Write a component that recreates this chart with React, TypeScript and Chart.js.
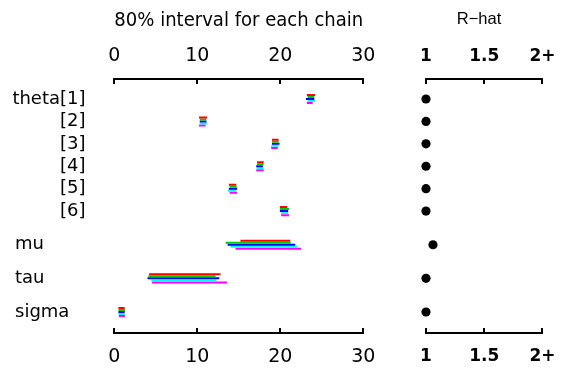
import React, { useEffect, useRef } from "react";
import { Chart, registerables } from "chart.js";

Chart.register(...registerables);

// ---- data ----
const PARAMS = ["theta[1]", "[2]", "[3]", "[4]", "[5]", "[6]", "mu", "tau", "sigma"];
const ROWS = [0, 1, 2, 3, 4, 5, 6.5, 8, 9.5];

const chain1Lo = [23.2, 10.2, 19.0, 17.2, 13.8, 19.95, 15.2, 4.2, 0.5];
const chain1Hi = [24.2, 11.2, 19.8, 18.0, 14.7, 20.85, 21.2, 12.8, 1.25];
const chain2Lo = [23.3, 10.3, 19.0, 17.2, 13.9, 19.95, 13.4, 4.1, 0.5];
const chain2Hi = [24.1, 11.1, 19.8, 18.0, 14.75, 21.05, 21.25, 12.2, 1.3];
const chain3Lo = [23.1, 10.3, 19.0, 17.1, 13.8, 19.95, 13.65, 4.0, 0.5];
const chain3Hi = [24.1, 11.1, 19.9, 17.9, 14.8, 20.95, 21.8, 12.65, 1.25];
const chain4Lo = [23.3, 10.3, 18.9, 17.15, 13.7, 20.1, 14.0, 4.45, 0.5];
const chain4Hi = [24.2, 11.2, 19.8, 18.0, 14.7, 20.95, 22.1, 12.3, 1.25];
const chain5Lo = [23.2, 10.2, 18.9, 17.1, 13.9, 20.1, 14.6, 4.55, 0.55];
const chain5Hi = [23.9, 11.0, 19.7, 18.0, 14.8, 21.05, 22.5, 13.6, 1.3];

const RHAT = [1.0, 1.0, 1.0, 1.0, 1.0, 1.0, 1.06, 1.0, 1.0];

const INTERVAL_TICKS = [0, 10, 20, 30];
const RHAT_TICKS = [1, 1.5, 2];
const RHAT_TICK_LABELS = ["1", "1.5", "2+"];

const INTERVAL_TITLE = "80% interval for each chain";
const RHAT_TITLE = "R\u2212hat";

// ---- styles ----
const CHAIN_COLORS = ["#FF0000", "#00CD00", "#0000FF", "#00FFFF", "#FF00FF"];
const CHAIN_OFFSETS = [-0.18, -0.09, 0, 0.09, 0.18];
const Y_MIN = -0.892;
const Y_MAX = 10.437;
const SANS = "'DejaVu Sans', sans-serif";
const ARIAL = "'Liberation Sans', Arial, sans-serif";
const W = 569;
const H = 374;

const inwardTicks = {
  id: "inwardTicks",
  afterDraw(chart: any) {
    const ctx = chart.ctx;
    const a = chart.chartArea;
    ctx.save();
    ctx.strokeStyle = "#000";
    ctx.lineWidth = 2;
    for (const id of ["x", "xb"]) {
      const s = chart.scales[id];
      if (!s) continue;
      const top = s.options.position === "top";
      s.ticks.forEach((_t: any, i: number) => {
        const px = Math.round(s.getPixelForTick(i));
        const y0 = top ? a.top : a.bottom;
        ctx.beginPath();
        ctx.moveTo(px, y0);
        ctx.lineTo(px, top ? y0 + 5 : y0 - 5);
        ctx.stroke();
      });
    }
    ctx.restore();
  },
};

function xAxis(position: string, min: number, max: number, ticks: number[], labels: string[], font: any, pad: number, height: number, title?: any) {
  return {
    type: "linear",
    position,
    min,
    max,
    afterBuildTicks: (s: any) => {
      s.ticks = ticks.map((v) => ({ value: v }));
    },
    ticks: {
      autoSkip: false,
      maxRotation: 0,
      color: "#000",
      font,
      padding: pad,
      callback: (_v: any, i: number) => labels[i],
    },
    grid: { display: true, drawOnChartArea: false, drawTicks: false },
    border: { display: true, color: "#000", width: 2 },
    title: title || { display: false },
    afterFit: (s: any) => {
      s.height = height;
    },
  };
}

export default function App() {
  const leftRef = useRef<HTMLCanvasElement>(null);
  const rightRef = useRef<HTMLCanvasElement>(null);

  useEffect(() => {
    const los = [chain1Lo, chain2Lo, chain3Lo, chain4Lo, chain5Lo];
    const his = [chain1Hi, chain2Hi, chain3Hi, chain4Hi, chain5Hi];
    const datasets: any[] = [];
    PARAMS.forEach((_p, i) => {
      los.forEach((lo, c) => {
        datasets.push({
          data: [
            { x: lo[i], y: ROWS[i] + CHAIN_OFFSETS[c] },
            { x: his[c][i], y: ROWS[i] + CHAIN_OFFSETS[c] },
          ],
          showLine: true,
          borderColor: CHAIN_COLORS[c],
          borderWidth: 2,
          borderCapStyle: "butt",
          pointRadius: 0,
          fill: false,
        });
      });
    });

    // labels right-aligned next to the panel: theta[1] and its indices
    const nearIdx = PARAMS.map((_p, i) => i).filter((i) => i <= 5);
    // labels left-aligned at the margin: scalar parameters
    const farIdx = PARAMS.map((_p, i) => i).filter((i) => i > 5);

    const tickFont = { family: SANS, size: 19 };
    const labelFont = { family: SANS, size: 18 };
    const left = new Chart(leftRef.current!, {
      type: "scatter",
      data: { datasets },
      options: {
        responsive: false,
        animation: false,
        events: [],
        layout: { padding: { left: 0, right: W - 363.3, top: 0, bottom: 0 } },
        plugins: { legend: { display: false }, tooltip: { enabled: false }, title: { display: false } },
        scales: {
          x: xAxis("top", 0, 30, INTERVAL_TICKS, INTERVAL_TICKS.map(String), tickFont, 11.5, 79, {
            display: true,
            text: INTERVAL_TITLE,
            color: "#000",
            font: { family: SANS, size: 19 },
            padding: { top: 9.5, bottom: 0 },
          }),
          xb: xAxis("bottom", 0, 30, INTERVAL_TICKS, INTERVAL_TICKS.map(String), tickFont, 12.5, H - 333),
          y: {
            type: "linear",
            position: "left",
            weight: 0,
            reverse: true,
            min: Y_MIN,
            max: Y_MAX,
            afterBuildTicks: (s: any) => {
              s.ticks = farIdx.map((i) => ({ value: ROWS[i] }));
            },
            ticks: {
              autoSkip: false,
              mirror: true,
              crossAlign: "near",
              padding: 15 - 114.3,
              color: "#000",
              font: labelFont,
              callback: (_v: any, i: number) => PARAMS[farIdx[i]],
            },
            grid: { display: false, drawTicks: false },
            border: { display: false },
            afterFit: (s: any) => {
              s.width = 0;
            },
          },
          yi: {
            type: "linear",
            position: "left",
            weight: 1,
            reverse: true,
            min: Y_MIN,
            max: Y_MAX,
            afterBuildTicks: (s: any) => {
              s.ticks = nearIdx.map((i) => ({ value: ROWS[i] }));
            },
            ticks: {
              autoSkip: false,
              crossAlign: "near",
              padding: 114.3 - 85.5,
              color: "#000",
              font: labelFont,
              callback: (_v: any, i: number) => PARAMS[nearIdx[i]],
            },
            grid: { display: false, drawTicks: false },
            border: { display: false },
            afterFit: (s: any) => {
              s.width = 114.3;
            },
          },
        },
      } as any,
      plugins: [inwardTicks],
    } as any);

    const rFont = { family: SANS, size: 17, weight: "bold" };
    const right = new Chart(rightRef.current!, {
      type: "scatter",
      data: {
        datasets: [
          {
            data: RHAT.map((v, i) => ({ x: v, y: ROWS[i] })),
            pointRadius: 4.6,
            pointBackgroundColor: "#000",
            pointBorderWidth: 0,
            showLine: false,
            clip: false,
          },
        ],
      },
      options: {
        responsive: false,
        animation: false,
        events: [],
        layout: { padding: { left: 408, right: 19, top: 0, bottom: 0 } },
        plugins: {
          legend: { display: false },
          tooltip: { enabled: false },
          title: {
            display: true,
            text: RHAT_TITLE,
            color: "#000",
            font: { family: ARIAL, size: 16.5, weight: "normal" },
            padding: { top: 10, bottom: 0 },
          },
        },
        scales: {
          x: xAxis("top", 1, 2, RHAT_TICKS, RHAT_TICK_LABELS, rFont, 12.5, 79 - 29.8),
          xb: xAxis("bottom", 1, 2, RHAT_TICKS, RHAT_TICK_LABELS, rFont, 13.5, H - 333),
          y: {
            type: "linear",
            position: "left",
            reverse: true,
            min: Y_MIN,
            max: Y_MAX,
            ticks: { display: false },
            grid: { display: false },
            border: { display: false },
            afterFit: (s: any) => {
              s.width = 18;
            },
          },
        },
      } as any,
      plugins: [inwardTicks],
    } as any);

    return () => {
      left.destroy();
      right.destroy();
    };
  }, []);

  const cs: React.CSSProperties = { position: "absolute", left: 0, top: 0, width: W, height: H };
  return (
    <div style={{ position: "absolute", left: 0, top: 0, width: W, height: H, background: "#fff" }}>
      <canvas ref={leftRef} width={W} height={H} style={cs} />
      <canvas ref={rightRef} width={W} height={H} style={cs} />
    </div>
  );
}
